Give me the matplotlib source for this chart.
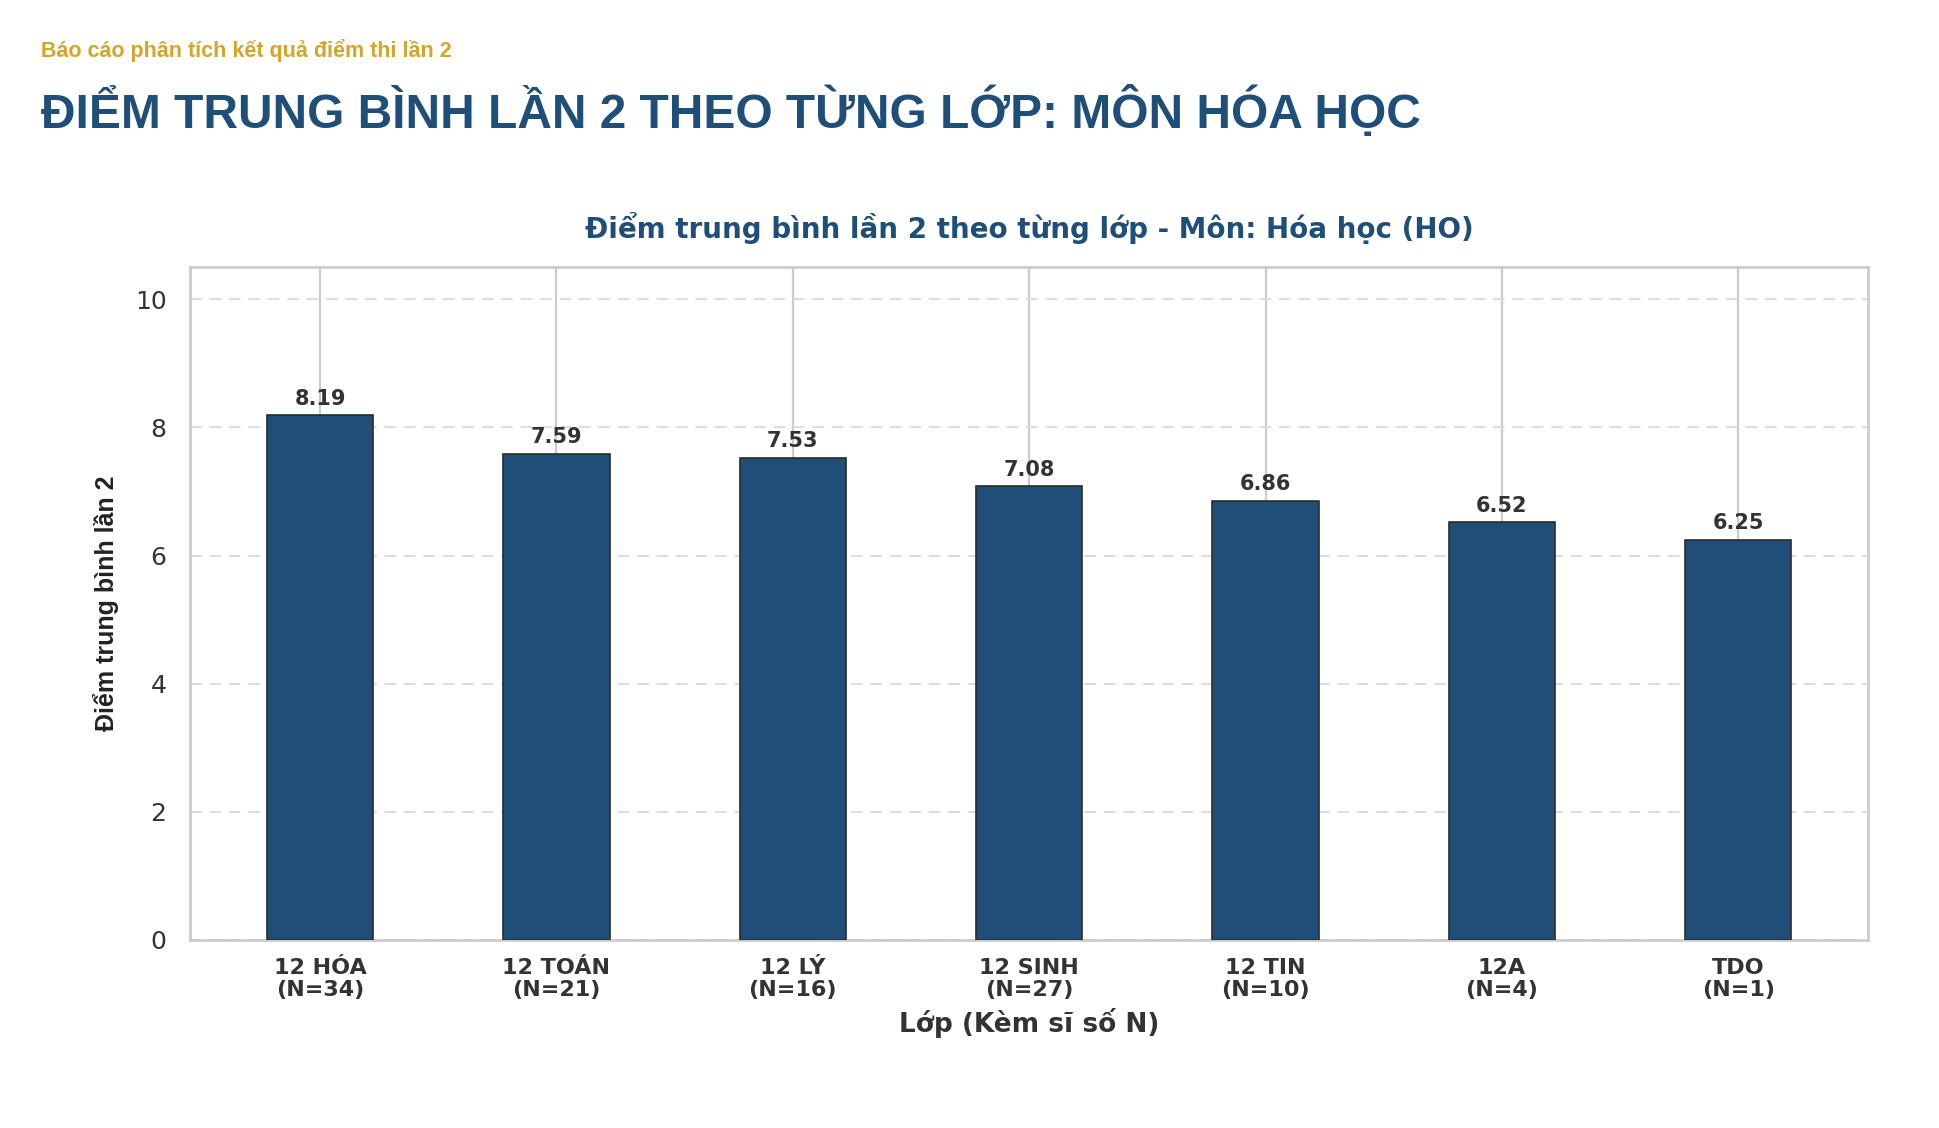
import numpy as np
import matplotlib
matplotlib.use('Agg')
import matplotlib.pyplot as plt

# data
classes = ['12 HÓA', '12 TOÁN', '12 LÝ', '12 SINH', '12 TIN', '12A', 'TDO']
counts  = [34, 21, 16, 27, 10, 4, 1]
scores  = [8.19, 7.59, 7.53, 7.08, 6.86, 6.52, 6.25]
yticks  = [0, 2, 4, 6, 8, 10]

navy = '#1f4e79'
gold = '#d4a52c'
dark = '#333333'

# chart text in the reference is wide, so DejaVu Sans; header in Liberation
plt.rcParams['font.family'] = ['DejaVu Sans']
head = ['Liberation Sans', 'DejaVu Sans']

fig = plt.figure(figsize=(19.4, 11.28), dpi=100)
ax = fig.add_axes([0.098, 0.1667, 0.865, 0.5963])

x = np.arange(len(classes))
ax.bar(x, scores, width=0.45, color=navy, edgecolor='#2b2b2b', linewidth=1.2, zorder=3)
for xi, v in zip(x, scores):
    ax.text(xi, v + 0.1, f'{v:.2f}', ha='center', va='bottom',
            fontsize=15, fontweight='bold', color=dark, zorder=4)

ax.set_xlim(-0.55, len(classes) - 0.45)
ax.set_ylim(0, 10.5)
ax.set_yticks(yticks)
ax.set_xticks(x)
ax.set_xticklabels([f'{c}\n(N={n})' for c, n in zip(classes, counts)],
                   fontsize=16, fontweight='bold', color=dark, linespacing=1.12)
ax.tick_params(axis='x', length=0, pad=13)
ax.tick_params(axis='y', length=0, pad=17, labelsize=18, labelcolor=dark)

ax.grid(axis='x', color='#cccccc', linewidth=1.6, zorder=0)
ax.grid(axis='y', color='#dddddd', linewidth=1.4, linestyle=(0, (6, 4)), zorder=0)
ax.set_axisbelow(True)
for s in ax.spines.values():
    s.set_color('#cccccc')
    s.set_linewidth(2)

ax.set_xlabel('Lớp (Kèm sĩ số N)', fontsize=19, fontweight='bold', color=dark, labelpad=6)
ax.set_ylabel('Điểm trung bình lần 2', fontsize=18, fontweight='bold', color='#222222',
              family=head, labelpad=11)
ax.set_title('Điểm trung bình lần 2 theo từng lớp - Môn: Hóa học (HO)',
             fontsize=20, fontweight='bold', color=navy, pad=21)

fig.text(0.021, 1 - 57/1128, 'Báo cáo phân tích kết quả điểm thi lần 2',
         fontsize=15.5, fontweight='bold', color=gold, va='baseline', family=head)
fig.text(0.021, 1 - 128/1128, 'ĐIỂM TRUNG BÌNH LẦN 2 THEO TỪNG LỚP: MÔN HÓA HỌC',
         fontsize=34.5, fontweight='bold', color=navy, va='baseline', family=head)

fig.savefig('out.png', dpi=100, facecolor='white')
